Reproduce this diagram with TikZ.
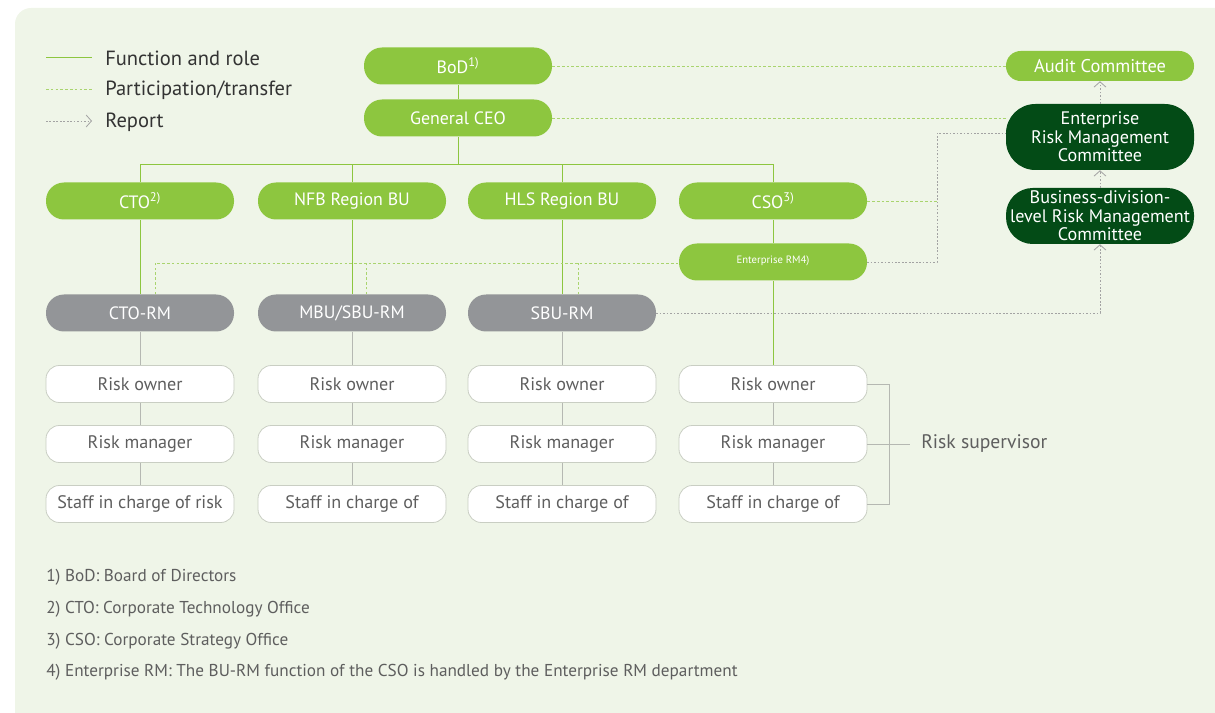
\documentclass[tikz,border=0pt]{standalone}
\usepackage{fontspec}
\setmainfont{PT Sans}
\usetikzlibrary{arrows.meta}
\definecolor{bgc}{HTML}{EFF5E8}
\definecolor{grn}{HTML}{8DC63F}
\definecolor{lgrn}{HTML}{A9D46E}
\definecolor{dgrn}{HTML}{034B16}
\definecolor{gnode}{HTML}{939598}
\definecolor{wbord}{HTML}{C9CEC3}
\definecolor{txtg}{HTML}{5E5E5E}
\definecolor{repg}{HTML}{A3A3A3}
\definecolor{brkg}{HTML}{B5B8B2}
\tikzset{
  pill/.style={rectangle, rounded corners=13.5pt, minimum width=141pt, minimum height=27.75pt, inner sep=0pt, align=center},
  gbox/.style={pill, fill=grn, text=white, font=\fontsize{13.4}{14}\selectfont},
  graybox/.style={pill, fill=gnode, text=white, font=\fontsize{13.4}{14}\selectfont},
  wbox/.style={pill, rounded corners=10pt, fill=white, draw=wbord, line width=0.6pt, text=txtg, font=\fontsize{13.6}{14}\selectfont},
  dbox/.style={pill, fill=dgrn, text=white, font=\fontsize{13.6}{13.9}\selectfont},
  func/.style={draw=grn, line width=0.7pt},
  part/.style={draw=lgrn, line width=0.6pt, dash pattern=on 2pt off 1.6pt},
  rep/.style={draw=repg, line width=0.7pt, dash pattern=on 1.3pt off 1.3pt},
  reparr/.style={rep, -{Straight Barb[length=4pt,width=9pt,line width=0.6pt]}},
  thin/.style={draw=brkg, line width=0.6pt},
  legtext/.style={anchor=west, text=black!80, font=\fontsize{15.4}{16}\selectfont, inner sep=0pt},
  foot/.style={anchor=west, text=txtg, font=\fontsize{12.9}{14}\selectfont, inner sep=0pt},
}
\begin{document}
\begin{tikzpicture}[x=0.75pt,y=-0.75pt]
\useasboundingbox (0,0) rectangle (1215,713);
\begin{scope}
\clip (0,0) rectangle (1215,713);
\fill[bgc, rounded corners=12pt] (15,8) rectangle (1240,740);
\end{scope}

% legend
\coordinate (l1a) at (46,57); \coordinate (l1b) at (92,57);
\coordinate (l2a) at (46,89); \coordinate (l2b) at (92,89);
\coordinate (l3a) at (46,121); \coordinate (l3b) at (92,121);
\draw[func] (l1a) -- (l1b);
\draw[part] (l2a) -- (l2b);
\draw[reparr] (l3a) -- (l3b);
\node[legtext] (lt1) at (105,58) {Function and role};
\node[legtext] (lt2) at (105,90) {Participation/transfer};
\node[legtext] (lt3) at (105,122) {Report};

% top
\node[gbox] (bod) at (458,66) {BoD\textsuperscript{1)}};
\node[gbox] (ceo) at (458,118) {General CEO};

% second row
\node[gbox] (cto) at (140,201) {CTO\textsuperscript{2)}};
\node[gbox] (nfb) at (352,201) {NFB Region BU};
\node[gbox] (hls) at (562,201) {HLS Region BU};
\node[gbox] (cso) at (773,201) {CSO\textsuperscript{3)}};
\node[gbox, font=\fontsize{8}{9}\selectfont] (erm) at (773,262) {\raisebox{3pt}{Enterprise RM4)}};

% RM row
\node[graybox] (ctorm) at (140,313) {CTO-RM};
\node[graybox] (mbu) at (352,313) {MBU/SBU-RM};
\node[graybox] (sbu) at (562,313) {SBU-RM};

% risk rows
\foreach \i/\x in {1/140,2/352,3/562,4/773}{
  \node[wbox] (ro\i) at (\x,384) {Risk owner};
  \node[wbox] (rm\i) at (\x,444) {Risk manager};
}
\node[wbox] (st1) at (140,504) {Staff in charge of risk};
\node[wbox] (st2) at (352,504) {Staff in charge of};
\node[wbox] (st3) at (562,504) {Staff in charge of};
\node[wbox] (st4) at (773,504) {Staff in charge of};

% committees
\node[gbox, minimum height=22.5pt, rounded corners=11pt, font=\fontsize{13.8}{14}\selectfont] (aud) at (1100,66) {Audit Committee};
\node[dbox, minimum height=49.5pt, rounded corners=22pt] (ermc) at (1100,137) {Enterprise\\Risk Management\\Committee};
\node[dbox, minimum height=42pt, rounded corners=20pt] (bdrmc) at (1100,216) {Business-division-\\level Risk Management\\Committee};

\node[anchor=west, inner sep=0pt, text=txtg, font=\fontsize{14.7}{16}\selectfont] (sup) at (921,444) {Risk supervisor};

% footnotes
\node[foot] (f1) at (46,577) {1) BoD: Board of Directors};
\node[foot] (f2) at (46,609) {2) CTO: Corporate Technology Office};
\node[foot] (f3) at (46,641) {3) CSO: Corporate Strategy Office};
\node[foot] (f4) at (46,672) {4) Enterprise RM: The BU-RM function of the CSO is handled by the Enterprise RM department};

% connectors
\coordinate (bus) at (458,164);
\draw[func] (bod) -- (ceo);
\draw[func] (ceo) -- (bus);
\draw[func] (cto.north) -- (cto.north |- bus) -- (cso.north |- bus) -- (cso.north);
\draw[func] (nfb.north) -- (nfb.north |- bus);
\draw[func] (hls.north) -- (hls.north |- bus);
\draw[func] (cto) -- (ctorm);
\draw[func] (nfb) -- (mbu);
\draw[func] (hls) -- (sbu);
\draw[func] (cso) -- (erm);
\draw[func] (erm) -- (ro4);
\draw[thin] (ctorm) -- (ro1);
\draw[thin] (mbu) -- (ro2);
\draw[thin] (sbu) -- (ro3);
\foreach \i in {1,2,3,4}{
  \draw[thin] (ro\i) -- (rm\i);
  \draw[thin] (rm\i) -- (st\i);
}
% participation
\coordinate (p1) at (155,263);
\coordinate (p2) at (366,263);
\coordinate (p3) at (578,263);
\draw[part] (ctorm.north -| p1) -- (p1) -- (p1 -| erm.west);
\draw[part] (mbu.north -| p2) -- (p2);
\draw[part] (sbu.north -| p3) -- (p3);
\draw[part] (bod.east) -- (aud.west);
\draw[part] (ceo.east) -- (ceo.east -| ermc.west);
\coordinate (j1) at (937,201);
\draw[part] (cso.east) -- (j1);
% report
\coordinate (j2) at (937,262);
\coordinate (j3) at (937,133);
\draw[rep] (erm.east) -- (j2) -- (j3) -- (j3 -| ermc.west);
\draw[reparr] (ermc.north) -- (aud.south);
\draw[reparr] (bdrmc.north) -- (ermc.south);
\draw[reparr] (sbu.east) -- (sbu.east -| bdrmc.south) -- (bdrmc.south);
% bracket
\coordinate (b1) at (889,384);
\coordinate (b2) at (889,504);
\coordinate (b3) at (910,444);
\draw[thin] (ro4.east) -- (b1) -- (b2) -- (st4.east);
\draw[thin] (rm4.east) -- (b3);
\end{tikzpicture}
\end{document}
